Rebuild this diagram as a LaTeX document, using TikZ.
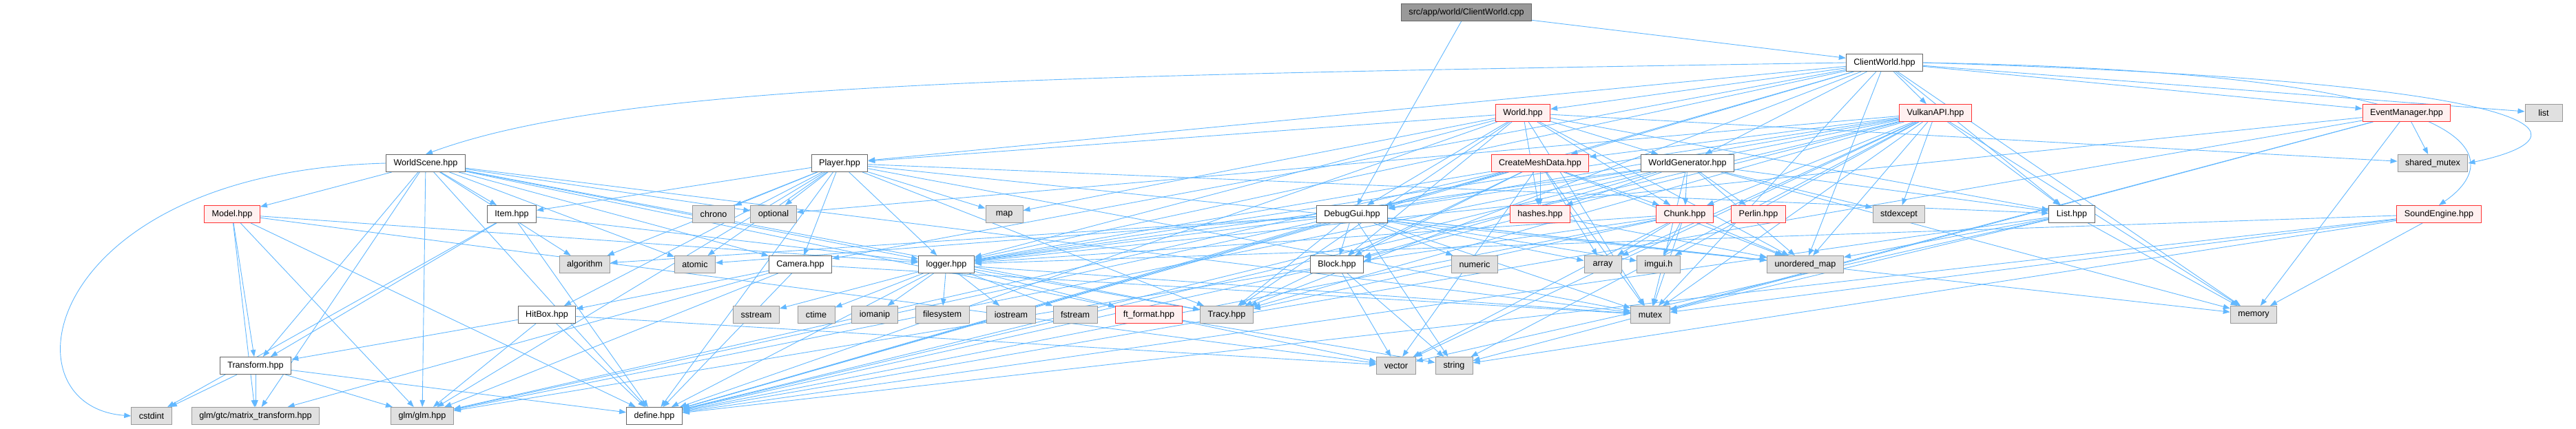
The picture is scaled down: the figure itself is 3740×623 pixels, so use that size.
\documentclass[tikz,border=0pt]{standalone}
\usepackage{fontspec}
\setmainfont{Liberation Sans}
\usetikzlibrary{arrows.meta,positioning}
\definecolor{edgeblue}{HTML}{63B8FF}
\definecolor{docgray}{HTML}{666666}
\definecolor{sysgray}{HTML}{999999}
\definecolor{sysfill}{HTML}{E0E0E0}
\definecolor{truncred}{HTML}{FF3333}
\definecolor{truncfill}{HTML}{FFF0F0}
\pgfdeclarelayer{bg}
\pgfsetlayers{bg,main}

\begin{document}
\begin{tikzpicture}[x=1pt,y=-1pt,font=\fontsize{12.6}{15}\selectfont,
      box/.style={draw,line width=1pt,minimum height=25pt,minimum width=54pt,inner xsep=11pt,inner ysep=2pt},
      doc/.style={box,draw=docgray,fill=white},
      sys/.style={box,draw=sysgray,fill=sysfill},
      trunc/.style={box,draw=truncred,fill=truncfill},
      root/.style={box,draw=docgray,fill=sysgray},
      arr/.style={-{Triangle[length=10pt,width=7.5pt]},line width=0.9pt,draw=edgeblue}]
    \useasboundingbox (0,0) rectangle (3740,623);
    % top
    \node[root] (cpp) at (2129,18) {src/app/world/ClientWorld.cpp};
    \node[doc] (cw) at (2736,91) {ClientWorld.hpp};
    \node[trunc] (world) at (2211,164) {World.hpp};
    \node[trunc] (vk) at (2810,164) {VulkanAPI.hpp};
    \node[trunc] (evt) at (3494,164) {EventManager.hpp};
    \node[sys] (list) at (3693,164) {list};
    % headers
    \node[doc] (wscene) at (618,237) {WorldScene.hpp};
    \node[doc] (player) at (1219,237) {Player.hpp};
    \node[trunc] (cmd) at (2236,237) {CreateMeshData.hpp};
    \node[doc] (wgen) at (2450,237) {WorldGenerator.hpp};
    \node[sys] (shmtx) at (3532,237) {shared\_mutex};
    \node[trunc] (model) at (337,311) {Model.hpp};
    \node[doc] (item) at (743,311) {Item.hpp};
    \node[sys] (chrono) at (1036,311) {chrono};
    \node[sys] (optional) at (1123,311) {optional};
    \node[sys] (map) at (1458,311) {map};
    \node[doc] (dbg) at (1963,311) {DebugGui.hpp};
    \node[trunc] (hashes) at (2236,311) {hashes.hpp};
    \node[trunc] (chunk) at (2446,311) {Chunk.hpp};
    \node[trunc] (perlin) at (2553,311) {Perlin.hpp};
    \node[sys] (stdexc) at (2757,311) {stdexcept};
    \node[doc] (listh) at (3008,311) {List.hpp};
    \node[trunc] (sound) at (3541,311) {SoundEngine.hpp};
    \node[sys] (algo) at (849,384) {algorithm};
    \node[sys] (atomic) at (1009,384) {atomic};
    \node[doc] (camera) at (1162,384) {Camera.hpp};
    \node[doc] (logger) at (1374,384) {logger.hpp};
    \node[doc] (block) at (1941,384) {Block.hpp};
    \node[sys] (numeric) at (2141,384) {numeric};
    \node[sys] (array) at (2327,384) {array};
    \node[sys] (imgui) at (2408,384) {imgui.h};
    \node[sys] (umap) at (2621,384) {unordered\_map};
    \node[doc] (hitbox) at (794,457) {HitBox.hpp};
    \node[sys] (sstream) at (1098,457) {sstream};
    \node[sys] (ctime) at (1185,457) {ctime};
    \node[sys] (iomanip) at (1270,457) {iomanip};
    \node[sys] (fsys) at (1368,457) {filesystem};
    \node[sys] (iostream) at (1468,457) {iostream};
    \node[sys] (fstream) at (1561,457) {fstream};
    \node[trunc] (fmt) at (1668,457) {ft\_format.hpp};
    \node[sys] (tracy) at (1781,457) {Tracy.hpp};
    \node[sys] (mutex) at (2396,457) {mutex};
    \node[sys] (memory) at (3272,457) {memory};
    \node[doc] (transform) at (371,531) {Transform.hpp};
    \node[sys] (vector) at (2027,531) {vector};
    \node[sys] (string) at (2111,531) {string};
    \node[sys] (cstdint) at (220,604) {cstdint};
    \node[sys] (gtc) at (371,604) {glm/gtc/matrix\_transform.hpp};
    \node[sys] (glm) at (613,604) {glm/glm.hpp};
    \node[doc] (define) at (950,604) {define.hpp};
    % includes
    \begin{pgfonlayer}{bg}
    \foreach \dst in {cw,dbg} \draw[arr] (cpp) -- (\dst);
    \foreach \dst in {player,world,vk,evt,list,wgen,cmd,listh,memory,camera,logger,umap,mutex,define,tracy}
      \draw[arr] (cw) -- (\dst);
    \draw[arr] (cw.west) .. controls (1500,110) and (900,120) .. (wscene.north);
    \draw[arr] (cw.east) .. controls (3750,120) and (3760,200) .. (shmtx.east);
    \draw[arr] (cw.east) .. controls (3630,105) and (3640,230) .. (sound.north);
    \foreach \dst in {player,wgen,hashes,listh,shmtx,block,logger,tracy,define,mutex,umap,dbg,map,chunk}
      \draw[arr] (world) -- (\dst);
    \foreach \dst in {cmd,chunk,listh,stdexc,dbg,imgui,umap,mutex,tracy,logger,define,glm,vector,string,memory,optional,array,block}
      \draw[arr] (vk) -- (\dst);
    \foreach \dst in {shmtx,memory,mutex,logger,define,string} \draw[arr] (evt) -- (\dst);
    \foreach \dst in {model,item,camera,logger,transform,glm,gtc,define,algo,atomic,optional,mutex,vector,tracy}
      \draw[arr] (wscene) -- (\dst);
    \draw[arr] (wscene.west) .. controls (60,250) and (0,590) .. (cstdint.west);
    \foreach \dst in {chrono,optional,map,item,camera,hitbox,logger,define,glm,tracy,mutex,atomic,algo,listh,umap}
      \draw[arr] (player) -- (\dst);
    \foreach \dst in {hashes,chunk,dbg,block,logger,define,glm,umap,vector,array,tracy,mutex}
      \draw[arr] (cmd) -- (\dst);
    \foreach \dst in {chunk,perlin,hashes,dbg,block,stdexc,umap,mutex,memory,define,listh,logger}
      \draw[arr] (wgen) -- (\dst);
    \foreach \dst in {transform,glm,gtc,define,logger,vector} \draw[arr] (model) -- (\dst);
    \foreach \dst in {transform,define,logger,cstdint} \draw[arr] (item) -- (\dst);
    \foreach \dst in {imgui,array,numeric,mutex,string,logger,block,atomic,algo,tracy,umap,define,glm,memory}
      \draw[arr] (dbg) -- (\dst);
    \draw[arr] (hashes) -- (umap);
    \foreach \dst in {array,umap,mutex,block,tracy,define,vector,imgui,logger} \draw[arr] (chunk) -- (\dst);
    \foreach \dst in {umap,mutex,vector,memory,define} \draw[arr] (listh) -- (\dst);
    \foreach \dst in {memory,logger,mutex,string,define} \draw[arr] (sound) -- (\dst);
    \foreach \dst in {hitbox,glm,gtc,define,mutex} \draw[arr] (camera) -- (\dst);
    \foreach \dst in {sstream,ctime,iomanip,fsys,iostream,fstream,fmt,tracy,mutex,define}
      \draw[arr] (logger) -- (\dst);
    \foreach \dst in {vector,string,define,glm} \draw[arr] (block) -- (\dst);
    \foreach \dst in {transform,glm,define,vector} \draw[arr] (hitbox) -- (\dst);
    \foreach \dst in {cstdint,gtc,glm,define} \draw[arr] (transform) -- (\dst);
    \draw[arr] (fmt) -- (string);
    \end{pgfonlayer}
  \end{tikzpicture}
\end{document}
